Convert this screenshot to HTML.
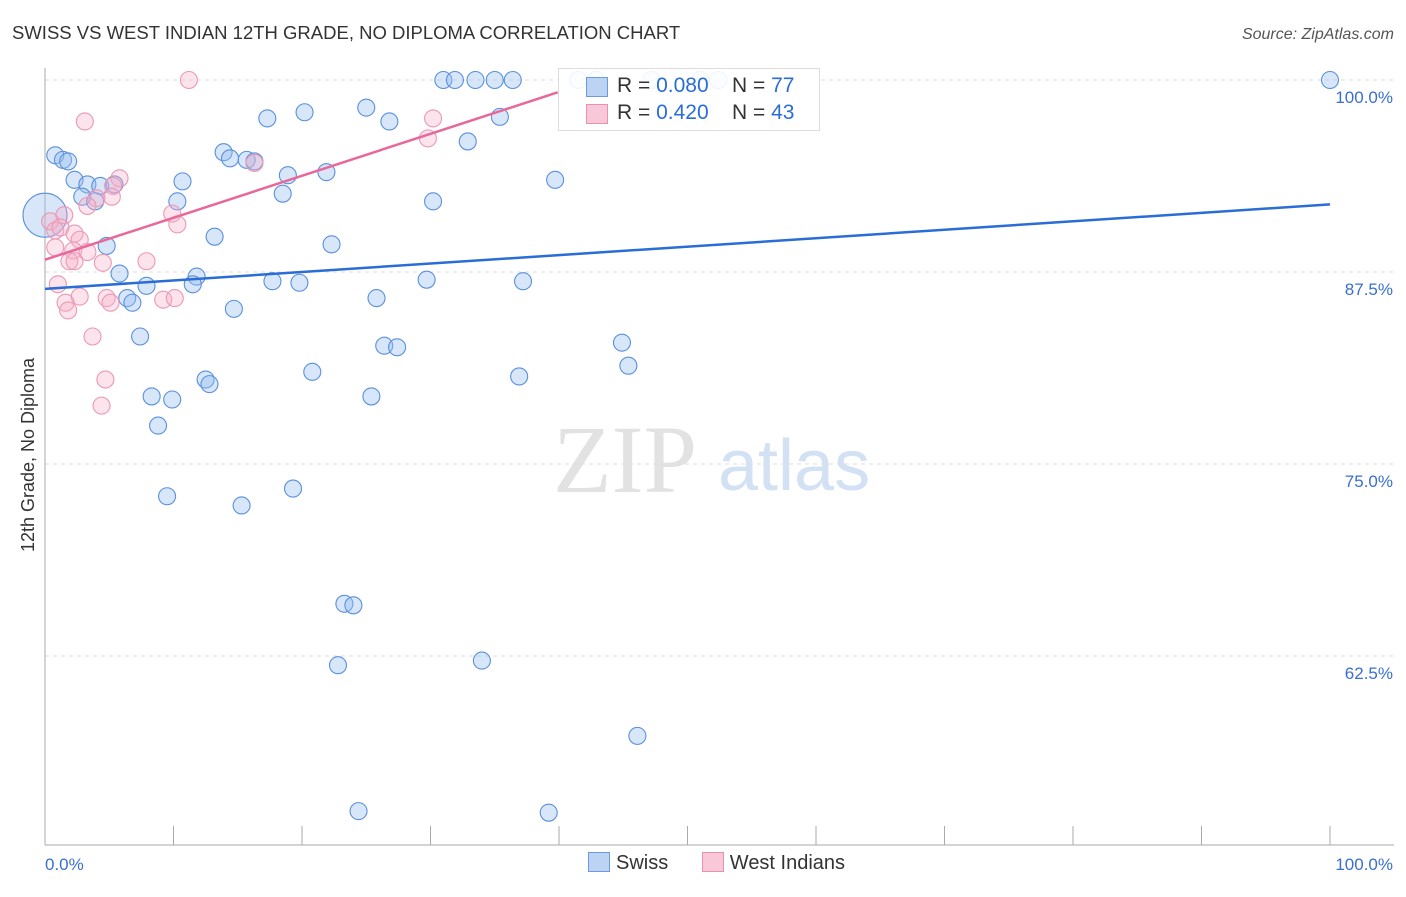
<!DOCTYPE html>
<html><head><meta charset="utf-8"><style>
body{margin:0;background:#fff;font-family:"Liberation Sans",sans-serif}
</style></head><body>
<svg id="c" width="1406" height="892" xmlns="http://www.w3.org/2000/svg">
<text x="12" y="39" font-size="18.5" fill="#333">SWISS VS WEST INDIAN 12TH GRADE, NO DIPLOMA CORRELATION CHART</text>
<text x="1394" y="39" font-size="16" fill="#555" font-style="italic" text-anchor="end">Source: ZipAtlas.com</text>
<text x="34" y="455" font-size="18" fill="#333" text-anchor="middle" transform="rotate(-90 34 455)">12th Grade, No Diploma</text>
<text x="553" y="492" font-size="96" fill="#e2e2e2" font-family="Liberation Serif">ZIP</text>
<text x="718" y="490" font-size="72" fill="#d3e1f4">atlas</text>
<g id="grid"></g><g id="marks"></g>
</svg>
<script>
const yTicks=[100,87.5,75,62.5];
const yTickLabels=["100.0%","87.5%","75.0%","62.5%"];
const swissX=[0.8,1.4,1.8,2.3,3.3,4.3,5.4,2.9,3.9,0,4.8,5.8,6.4,6.8,7.4,7.9,8.3,8.8,9.9,9.5,10.7,10.3,11.8,11.5,12.5,12.8,13.2,13.9,14.4,14.7,15.3,15.7,16.3,17.3,17.7,18.5,18.9,19.3,19.8,20.2,20.8,21.9,22.3,22.8,23.3,24.0,24.4,25.0,25.4,25.8,26.4,26.8,27.4,29.7,30.2,31.0,31.9,32.9,33.5,34.0,35.0,35.4,36.4,36.9,37.2,39.2,39.7,41.5,42.9,44.9,45.4,46.1,47.2,51,52.4,100];
const swissY=[95.1,94.8,94.7,93.5,93.2,93.1,93.2,92.4,92.1,91.2,89.2,87.4,85.8,85.5,83.3,86.6,79.4,77.5,79.2,72.9,93.4,92.1,87.2,86.7,80.5,80.2,89.8,95.3,94.9,85.1,72.3,94.8,94.7,97.5,86.9,92.6,93.8,73.4,86.8,97.9,81.0,94.0,89.3,61.9,65.9,65.8,52.4,98.2,79.4,85.8,82.7,97.3,82.6,87.0,92.1,100,100,96.0,100,62.2,100,97.6,100,80.7,86.9,52.3,93.5,100,100,82.9,81.4,57.3,100,100,100,100];
const wiX=[11.2,3.1,30.2,29.8,16.3,5.8,5.3,5.2,4.0,3.3,9.9,10.3,1.5,0.4,0.8,1.2,2.3,2.7,0.8,2.2,3.3,1.9,2.3,4.5,7.9,1.0,2.7,1.6,1.8,4.8,5.1,9.2,10.1,3.7,4.7,4.4];
const wiY=[100,97.3,97.5,96.2,94.6,93.6,93.1,92.4,92.3,91.8,91.3,90.6,91.2,90.8,90.2,90.4,90.0,89.6,89.1,88.9,88.8,88.2,88.2,88.1,88.2,86.7,85.9,85.5,85.0,85.8,85.5,85.7,85.8,83.3,80.5,78.8];
const swissLine=[[0,86.4],[100,91.9]];
const wiLine=[[0,88.3],[39.9,99.2]];
const X=v=>45+v*12.85, Y=v=>80+(100-v)*15.36;
const NS="http://www.w3.org/2000/svg";
function mk(t,a,p){const e=document.createElementNS(NS,t);for(const k in a)e.setAttribute(k,a[k]);(p||document.getElementById('marks')).appendChild(e);return e;}
const g=document.getElementById('grid');
yTicks.forEach((t,i)=>{
 const l=mk('line',{x1:45,x2:1394,y1:Y(t),y2:Y(t),stroke:'#ddd','stroke-dasharray':'4,4'},g);
 
 
 const tx=mk('text',{x:1393,y:Y(t)+23,'font-size':17,fill:'#3a6fd0','text-anchor':'end'},g);tx.textContent=yTickLabels[i];
 
 
});
let ax=mk('line',{x1:45,x2:45,y1:68,y2:845,stroke:'#aaa'},g);


ax=mk('line',{x1:45,x2:1394,y1:845,y2:845,stroke:'#aaa'},g);


for(let i=1;i<=10;i++){const t=mk('line',{x1:X(i*10),x2:X(i*10),y1:826,y2:845,stroke:'#aaa'},g);
 
 }
[["0.0%",45,'start'],["100.0%",1393,'end']].forEach(a=>{const t=mk('text',{x:a[1],y:870,'font-size':17,fill:'#3a6fd0','text-anchor':a[2]},g);t.textContent=a[0];
 
 });
swissX.forEach((x,i)=>{const c=mk('circle',{cx:X(x),cy:Y(swissY[i]),r:x===0?22:8.5,fill:'rgba(150,188,238,0.38)',stroke:'#5a90dc','stroke-width':1.1});
 
 });
wiX.forEach((x,i)=>{const c=mk('circle',{cx:X(x),cy:Y(wiY[i]),r:8.5,fill:'rgba(245,175,200,0.35)',stroke:'#eb98b5','stroke-width':1.1});
 
 });
let tl=mk('line',{x1:X(swissLine[0][0]),y1:Y(swissLine[0][1]),x2:X(swissLine[1][0]),y2:Y(swissLine[1][1]),stroke:'#2a6dd6','stroke-width':2.5});


tl=mk('line',{x1:X(wiLine[0][0]),y1:Y(wiLine[0][1]),x2:X(wiLine[1][0]),y2:Y(wiLine[1][1]),stroke:'#e8689a','stroke-width':2.5});


</script>
<div style="position:absolute;left:558px;top:68px;width:260px;height:61px;border:1px solid #ddd;background:rgba(255,255,255,0.9);font-size:21px;color:#333">
 <div style="position:absolute;left:27px;top:8px;width:20px;height:18px;background:#bcd3f3;border:1px solid #6a9ae0"></div>
 <div style="position:absolute;left:58px;top:5px;white-space:nowrap">R = <span style="color:#2a6dd6">0.080</span>&nbsp;&nbsp;&nbsp;&nbsp;N = <span style="color:#2a6dd6">77</span></div>
 <div style="position:absolute;left:27px;top:35px;width:20px;height:18px;background:#f8c8d8;border:1px solid #e890ae"></div>
 <div style="position:absolute;left:58px;top:32px;white-space:nowrap">R = <span style="color:#2a6dd6">0.420</span>&nbsp;&nbsp;&nbsp;&nbsp;N = <span style="color:#2a6dd6">43</span></div>
</div>
<div style="position:absolute;left:588px;top:852px;font-size:20px;color:#333;white-space:nowrap">
 <span style="display:inline-block;width:20px;height:18px;background:#bcd3f3;border:1px solid #6a9ae0;vertical-align:-3px;margin-right:6px"></span>Swiss
 <span style="display:inline-block;width:20px;height:18px;background:#f8c8d8;border:1px solid #e890ae;vertical-align:-3px;margin-left:28px;margin-right:6px"></span>West Indians
</div>
</body></html>
